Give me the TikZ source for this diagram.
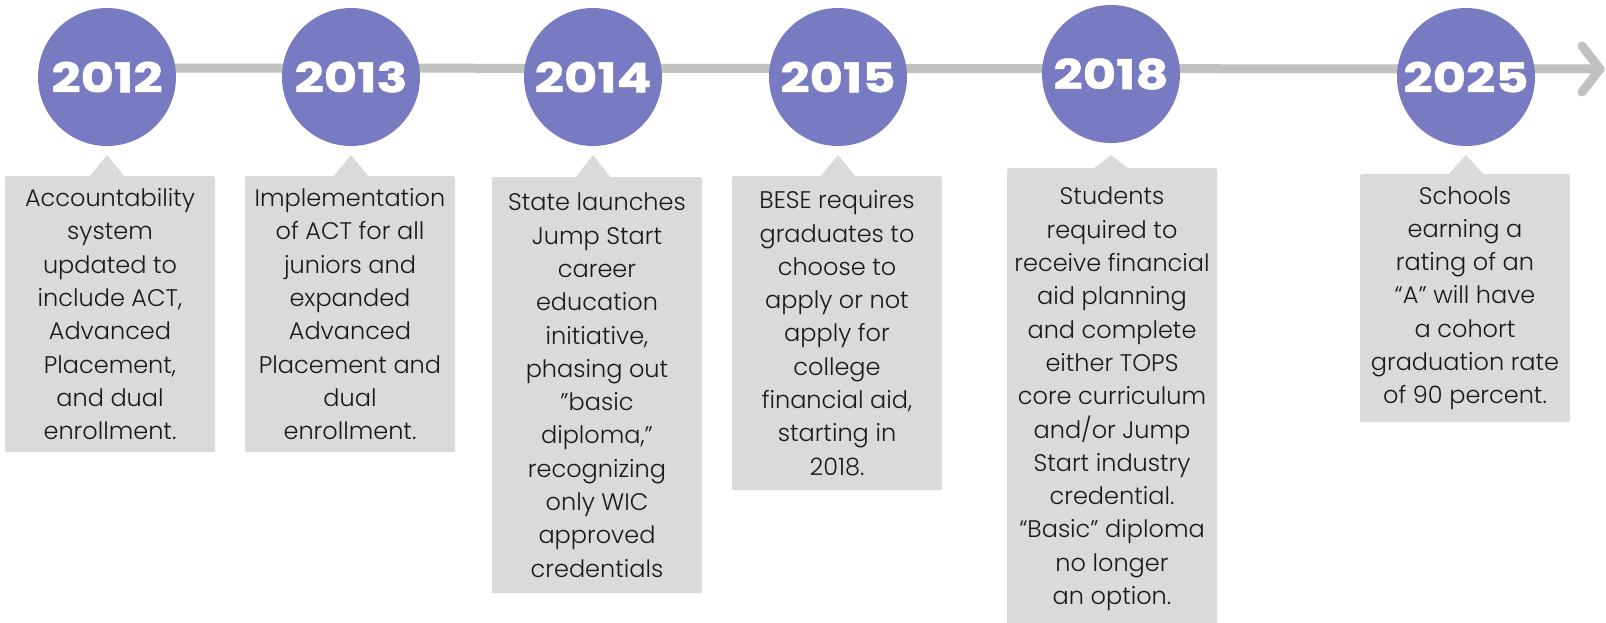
\documentclass[tikz,border=0pt]{standalone}
\usepackage{fontspec}
\setmainfont{Poppins}[UprightFont=* Light]
\newfontfamily\yearfont[FakeStretch=1.25, BoldFeatures={FakeBold=1.2}]{Poppins}
\usetikzlibrary{calc}

\definecolor{yearpurple}{RGB}{120,122,194}
\definecolor{notegray}{RGB}{218,218,218}
\definecolor{linegray}{RGB}{192,194,194}
\definecolor{notetext}{RGB}{25,25,25}

\tikzset{
  yearball/.style={circle, fill=yearpurple, minimum size=138pt, inner sep=0pt,
    text=white, font=\yearfont\fontsize{41}{41}\selectfont\bfseries},
  notebox/.style={fill=notegray, rounded corners=2pt, anchor=north,
    minimum width=210pt, align=center, inner ysep=10pt, text=notetext,
    font=\fontsize{24}{33.3}\selectfont},
  timeline/.style={linegray, line width=9pt, line cap=round, line join=round},
}

\begin{document}
\begin{tikzpicture}[x=1pt, y=-1pt]
  \useasboundingbox (0,0) rectangle (1606,622);

  % the time line and its arrow
  \coordinate (tlstart) at (110,68);
  \coordinate (tlend) at (1600,69);
  \draw[timeline] (tlstart) -- (tlend);
  \draw[timeline] (tlend) ++(-18,-23) -- (tlend) -- ++(-18,23);

  % years
  \node[yearball] (y2012) at (107,77) {2012};
  \node[yearball] (y2013) at (351,77) {2013};
  \node[yearball] (y2014) at (593,77) {2014};
  \node[yearball] (y2015) at (838,77) {2015};
  \node[yearball] (y2018) at (1111,74) {2018};
  \node[yearball] (y2025) at (1466,77) {2025};

  % notes
  \node[notebox, minimum height=276pt] (n2012) at (110,176) {Accountability\\system\\updated to\\include ACT,\\Advanced\\Placement,\\and dual\\enrollment.};
  \node[notebox, minimum height=276pt] (n2013) at (350,176) {Implementation\\of ACT for all\\juniors and\\expanded\\Advanced\\Placement and\\dual\\enrollment.};
  \node[notebox, minimum height=416pt] (n2014) at (597,177) {State launches\\Jump Start\\career\\education\\initiative,\\phasing out\\”basic\\diploma,”\\recognizing\\only WIC\\approved\\credentials};
  \node[notebox, minimum height=314pt] (n2015) at (837,176) {BESE requires\\graduates to\\choose to\\apply or not\\apply for\\college\\financial aid,\\starting in\\2018.};
  \node[notebox, inner ysep=19pt] (n2018) at (1112,168) {Students\\required to\\receive financial\\aid planning\\and complete\\either TOPS\\core curriculum\\and/or Jump\\Start industry\\credential.\\“Basic” diploma\\no longer\\an option.};
  \node[notebox, minimum height=248pt] (n2025) at (1465,174) {Schools\\earning a\\rating of an\\“A” will have\\a cohort\\graduation rate\\of 90 percent.};

  % pointers from notes up to years
  \foreach \yr in {2012,2013,2014,2015,2018,2025}
    \fill[notegray] (y\yr.center |- 0,155) -- ($(y\yr.center |- n\yr.north)+(18,1)$)
      -- ($(y\yr.center |- n\yr.north)+(-18,1)$) -- cycle;
\end{tikzpicture}
\end{document}
